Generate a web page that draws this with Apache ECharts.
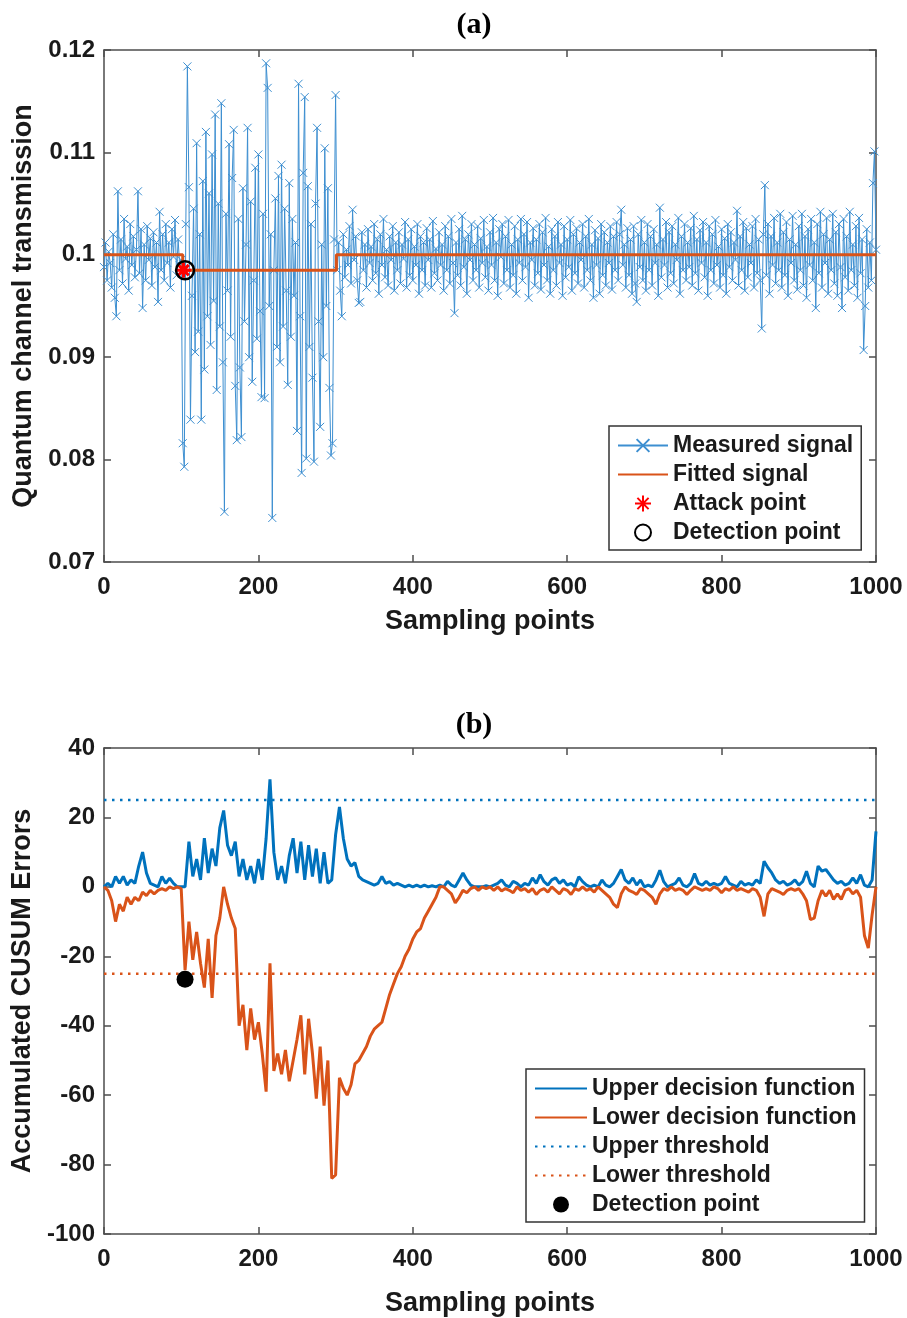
<!DOCTYPE html>
<html>
<head>
<meta charset="utf-8">
<title>CUSUM attack detection</title>
<script src="https://cdn.jsdelivr.net/npm/echarts@6.0.0/dist/echarts.min.js"></script>
<style>
  html, body { margin: 0; padding: 0; background: #fff; }
  #chart { width: 907px; height: 1318px; }
</style>
</head>
<body>
<div id="chart"></div>
<script>
// sampling steps used when reading the curves off the figure
var measStep = 2;
var cusumStep = 5;

// (a) measured quantum channel transmission, one value every 2 samples (0..1000)
var measured = [
  // 0 - 98
  0.0988, 0.1012, 0.0975, 0.1003, 0.0992, 0.0968, 0.1020, 0.0958, 0.0940, 0.1062,
  0.0985, 0.1015, 0.0972, 0.1035, 0.0996, 0.1008, 0.0965, 0.1030, 0.0990, 0.1018,
  0.0978, 0.1005, 0.1062, 0.0982, 0.1025, 0.0948, 0.1010, 0.0975, 0.1028, 0.0995,
  0.1016, 0.0970, 0.1022, 0.0988, 0.1012, 0.0954, 0.1042, 0.0985, 0.1020, 0.0975,
  0.1030, 0.0992, 0.1012, 0.0968, 0.1025, 0.0998, 0.1034, 0.0980, 0.1015, 0.0990,
  // 100 - 298 (attack)
  0.0995, 0.0816, 0.0793, 0.1030, 0.1184, 0.1066, 0.0839, 0.0960, 0.1045, 0.0905,
  0.1109, 0.0925, 0.1020, 0.0839, 0.1072, 0.0888, 0.1120, 0.0940, 0.1060, 0.0912,
  0.1098, 0.0955, 0.1137, 0.0868, 0.1050, 0.0930, 0.1148, 0.0895, 0.0749, 0.1040,
  0.0965, 0.1108, 0.0920, 0.1075, 0.1122, 0.0872, 0.0819, 0.1035, 0.0890, 0.0822,
  0.1065, 0.0935, 0.1010, 0.1124, 0.0900, 0.1052, 0.0876, 0.0975, 0.1085, 0.0918,
  0.1098, 0.0945, 0.0861, 0.1040, 0.0860, 0.1187, 0.1163, 0.0950, 0.1020, 0.0743,
  0.0985, 0.1055, 0.0910, 0.1077, 0.0895, 0.1088, 0.0930, 0.1045, 0.0965, 0.0873,
  0.1070, 0.0920, 0.1035, 0.0960, 0.1012, 0.0828, 0.1167, 0.0940, 0.0787, 0.1080,
  0.1154, 0.0801, 0.1067, 0.0910, 0.1030, 0.0880, 0.0798, 0.1050, 0.1124, 0.0935,
  0.0832, 0.1010, 0.0900, 0.1104, 0.0950, 0.1065, 0.0870, 0.0804, 0.0816, 0.1015,
  // 300 - 998
  0.1156, 0.0985, 0.1012, 0.0965, 0.0940, 0.1020, 0.0978, 0.1005, 0.0990, 0.1028,
  0.0972, 0.1044, 0.0995, 0.1018, 0.0975, 0.0953, 0.0954, 0.1022, 0.0985, 0.1010,
  0.0968, 0.1025, 0.0992, 0.1008, 0.0975, 0.1030, 0.0982, 0.1015, 0.0962, 0.1020,
  0.0990, 0.1035, 0.0978, 0.1005, 0.0970, 0.1018, 0.0995, 0.1028, 0.0965, 0.1012,
  0.0985, 0.1022, 0.0972, 0.1010, 0.0996, 0.1032, 0.0968, 0.1015, 0.0980, 0.1025,
  0.0975, 0.1008, 0.0990, 0.1030, 0.0962, 0.1018, 0.0985, 0.1012, 0.0970, 0.1026,
  0.0995, 0.1015, 0.0968, 0.1033, 0.0982, 0.1006, 0.0975, 0.1022, 0.0990, 0.1010,
  0.0965, 0.1028, 0.0985, 0.1018, 0.0972, 0.1035, 0.0992, 0.0943, 0.1012, 0.0980,
  0.1025, 0.0970, 0.1038, 0.0988, 0.1015, 0.0962, 0.1020, 0.0995, 0.1030, 0.0975,
  0.1010, 0.0985, 0.1028, 0.0968, 0.1016, 0.0992, 0.1034, 0.0978, 0.1008, 0.0965,
  0.1022, 0.0990, 0.1036, 0.0975, 0.1012, 0.0960, 0.1025, 0.0998, 0.1030, 0.0972,
  0.1018, 0.0985, 0.1034, 0.0968, 0.1010, 0.0980, 0.1028, 0.0962, 0.1015, 0.0992,
  0.1035, 0.0975, 0.1020, 0.0988, 0.1032, 0.0958, 0.1012, 0.0995, 0.1026, 0.0970,
  0.1015, 0.0982, 0.1030, 0.0966, 0.1022, 0.0990, 0.1036, 0.0975, 0.1008, 0.0962,
  0.1025, 0.0985, 0.1018, 0.0970, 0.1032, 0.0992, 0.1010, 0.0960, 0.1028, 0.0978,
  0.1015, 0.0988, 0.1034, 0.0965, 0.1020, 0.0982, 0.1026, 0.0972, 0.1012, 0.0995,
  0.1030, 0.0968, 0.1018, 0.0985, 0.1035, 0.0975, 0.1010, 0.0958, 0.1024, 0.0990,
  0.1016, 0.0962, 0.1030, 0.0980, 0.1022, 0.0970, 0.1012, 0.0992, 0.1028, 0.0966,
  0.1018, 0.0985, 0.1032, 0.0975, 0.1020, 0.1044, 0.0990, 0.1010, 0.0968, 0.1026,
  0.0980, 0.1015, 0.0962, 0.1028, 0.0972, 0.0954, 0.1020, 0.0988, 0.1034, 0.0975,
  0.1012, 0.0965, 0.1030, 0.0985, 0.1018, 0.0970, 0.1025, 0.0992, 0.1010, 0.0960,
  0.1046, 0.0978, 0.1015, 0.0990, 0.1032, 0.0968, 0.1022, 0.0982, 0.1028, 0.0972,
  0.1010, 0.0995, 0.1036, 0.0962, 0.1018, 0.0985, 0.1030, 0.0975, 0.1012, 0.0988,
  0.1026, 0.0970, 0.1038, 0.0982, 0.1015, 0.0965, 0.1024, 0.0992, 0.1032, 0.0978,
  0.1012, 0.0960, 0.1028, 0.0985, 0.1020, 0.0972, 0.1034, 0.0990, 0.1008, 0.0968,
  0.1025, 0.0980, 0.1016, 0.0962, 0.1030, 0.0988, 0.1022, 0.0975, 0.1012, 0.0995,
  0.1043, 0.0970, 0.1018, 0.0985, 0.1032, 0.0965, 0.1026, 0.0978, 0.1010, 0.0992,
  0.1028, 0.0968, 0.1035, 0.0982, 0.1015, 0.0975, 0.0928, 0.1020, 0.1068, 0.0980,
  0.1030, 0.0962, 0.1018, 0.0990, 0.1036, 0.0972, 0.1012, 0.0985, 0.1040, 0.0968,
  0.1022, 0.0980, 0.1032, 0.0960, 0.1015, 0.0992, 0.1038, 0.0975, 0.1010, 0.0966,
  0.1028, 0.0985, 0.1040, 0.0970, 0.1018, 0.0958, 0.1025, 0.0990, 0.1035, 0.0975,
  0.1012, 0.0948, 0.1030, 0.0982, 0.1042, 0.0968, 0.1020, 0.0992, 0.1036, 0.0962,
  0.1015, 0.0985, 0.1040, 0.0972, 0.1022, 0.0960, 0.1030, 0.0988, 0.0948, 0.1035,
  0.0978, 0.1018, 0.0965, 0.1042, 0.0985, 0.1010, 0.0970, 0.1028, 0.0958, 0.1036,
  0.0982, 0.1015, 0.0907, 0.0950, 0.1025, 0.0968, 0.1012, 0.0975, 0.1070, 0.1101,
  // 1000
  0.1005
];

// (a) fitted step signal
var fitIdx = [0, 102, 102, 301, 301, 1000];
var fitVal = [0.1, 0.1, 0.0985, 0.0985, 0.1, 0.1];
var attackPoint = [103, 0.0985];
var detectPointA = [105, 0.0985];

// (b) accumulated CUSUM errors, one value every 5 samples (0..1000)
var upperCusum = [
  0, 1, 0, 3, 1, 3, 0.5, 2, 1, 6,
  10, 4, 1, 0.5, 0, 3, 1, 2.5, 1, 0,
  0, 0, 13, 3, 8, 2, 14, 4, 11, 6,
  17, 22, 12, 9, 13, 3, 8, 2, 6, 1,
  8, 2, 14, 31, 10, 2, 6, 1, 9, 14,
  4, 13, 2, 12, 3, 11, 1, 10, 1, 2,
  15, 23, 14, 8, 6, 7, 3, 2, 1.5, 1,
  0.5, 1, 3, 1, 1.5, 0.5, 1, 0.5, 0, 0.5,
  0, 0.5, 0, 0.5, 0, 0.3, 0, 0.5, 0, 1.6,
  0.5, 0, 2, 4, 2, 0.5, 0, 0, 0, 0.3,
  0, 0.5, 1, 2, 0.5, 0, 1.6, 1, 0, 1,
  0.5, 2.6, 1, 3.5, 1.5, 0.5, 2, 2.6, 1, 2,
  0.5, 1, 0, 2.9, 1.5, 0.5, 0, 0.5, 0, 2,
  0.5, 0, 1, 3, 5, 2, 1, 2.6, 0.5, 2,
  0, 0.5, 0, 2, 4.8, 1.5, 0, 0.5, 1, 2.6,
  0.5, 0, 1, 3.8, 1, 0.5, 1.6, 0.5, 1, 0.5,
  1, 3, 1, 0.5, 0, 1.6, 0.5, 1, 0.5, 2,
  1, 7.4, 5.5, 4, 2, 1, 1.6, 0.5, 1, 2,
  0.5, 1.5, 4.5, 1, 0, 6, 4.5, 5, 3.5, 2,
  1, 1.6, 0.5, 1, 2.6, 1, 3.5, 0.5, 0, 2,
  16
];
var lowerCusum = [
  0, -1, -4, -10, -5, -7, -3, -5, -3, -4,
  -1.5, -2.5, -1, -2, -1, -0.5, -1, 0, -0.5, 0,
  -0.5, -24, -10, -21, -13, -22, -29, -15, -32, -14,
  -9, 0, -5, -9, -12, -40, -34, -47, -35, -44,
  -39, -48, -59, -22, -53, -48, -54, -47, -56, -50,
  -44, -37, -54, -38, -48, -61, -46, -63, -50, -84,
  -83, -55, -58, -60, -57, -51, -50, -48, -46, -43,
  -41, -40, -39, -35, -31, -28, -25, -23, -20, -18,
  -15, -13, -12, -9, -7, -5, -3, 0, 0, -1,
  -2, -4.6, -3, -1, -1.7, -0.5, 0, -1, 0, -0.5,
  0, -1, 0, -1.2, -0.5, -1, -1.7, 0, -1, -0.5,
  -1.5, -0.5, -2.2, -1, -0.5, -1.5, 0, -1, -2, -0.5,
  -1, -2.2, -0.5, -1, 0, -1, -0.5, -1.5, 0, -1,
  -2, -3, -5, -6, -2, 0, -1, -1.5, -2.2, -0.5,
  -1, -2, -3, -5, -2, -0.5, -1, 0, -1, -0.5,
  -1, -2.2, -1, 0, -0.5, -1, -0.5, -1, 0, -0.5,
  -1.7, -0.5, -1, 0, -1, -0.5, -1, -1.5, -0.5, -1,
  -3, -8.5, -2, -0.5, -1, -1.5, -2.2, -1, -0.5, -1,
  -0.5, -2, -4, -9.4, -9, -4, -1, -2.7, -1, -3.6,
  -2, -3.6, -1, -0.5, -2, -1, -3, -14, -17.6, -8,
  0
];
var thresholds = [25, -25];
var thresholdSpan = [0, 1000];
var detectPointB = [105, -26.6];

var FONT = '"Liberation Sans", Arial, Helvetica, sans-serif';
var TXT = '#1a1a1a';
var AXIS = '#4d4d4d';
var BLUE = '#0072BD';
var LIGHT_BLUE = '#3d8fd1';
var ORANGE = '#D95319';

var crossSymbol = 'path://M0 0 L10 10 M10 0 L0 10';
var starSymbol = 'path://M10 0 L10 20 M0 10 L20 10 M3 3 L17 17 M17 3 L3 17';

// turn a value list into [sample, value] pairs
function toPairs(values, step) {
  var out = [];
  for (var i = 0; i < values.length; i++) {
    out.push([i * step, values[i]]);
  }
  return out;
}

function zipPairs(xs, ys) {
  var out = [];
  for (var i = 0; i < xs.length; i++) {
    out.push([xs[i], ys[i]]);
  }
  return out;
}

var boxLine = { show: true, onZero: false, lineStyle: { color: AXIS, width: 1.5 } };
var boxTick = { show: true, inside: true, length: 7, lineStyle: { color: AXIS, width: 1.5 } };
var tickFont = { fontFamily: FONT, fontWeight: 'bold', fontSize: 24, color: TXT };
var nameFont = { fontFamily: FONT, fontWeight: 'bold', fontSize: 27, color: TXT };

// bottom + top x axes for one panel (top one only closes the box)
function xAxes(gridIndex, nameGap) {
  return [{
    type: 'value', gridIndex: gridIndex, position: 'bottom',
    min: 0, max: 1000, interval: 200,
    name: 'Sampling points', nameLocation: 'middle', nameGap: nameGap,
    nameTextStyle: nameFont,
    axisLine: boxLine, axisTick: boxTick,
    axisLabel: Object.assign({ margin: 13, formatter: function (v) { return String(v); } }, tickFont),
    splitLine: { show: false }
  }, {
    type: 'value', gridIndex: gridIndex, position: 'top',
    min: 0, max: 1000, interval: 200,
    axisLine: boxLine, axisTick: boxTick,
    axisLabel: { show: false }, splitLine: { show: false }
  }];
}

// left + right y axes for one panel
function yAxes(gridIndex, min, max, interval, name, fmt) {
  return [{
    type: 'value', gridIndex: gridIndex, position: 'left',
    min: min, max: max, interval: interval,
    name: name, nameLocation: 'middle', nameGap: 64,
    nameTextStyle: nameFont,
    axisLine: boxLine, axisTick: boxTick,
    axisLabel: Object.assign({ margin: 9, formatter: fmt }, tickFont),
    splitLine: { show: false }
  }, {
    type: 'value', gridIndex: gridIndex, position: 'right',
    min: min, max: max, interval: interval,
    axisLine: boxLine, axisTick: boxTick,
    axisLabel: { show: false }, splitLine: { show: false }
  }];
}

function legendBox(left, top, names, iconWidth) {
  return {
    orient: 'vertical', left: left, top: top,
    padding: [8, 8, 6, 8], itemGap: 6, itemWidth: iconWidth, itemHeight: 16,
    borderColor: '#333', borderWidth: 1.5, backgroundColor: '#fff',
    selectedMode: false,
    textStyle: { fontFamily: FONT, fontWeight: 'bold', fontSize: 23, lineHeight: 22, color: TXT },
    data: names
  };
}

// hide the dot that echarts puts on line legend icons
var noDot = { opacity: 0 };

var chart = echarts.init(document.getElementById('chart'), null, { renderer: 'canvas' });

chart.setOption({
  animation: false,
  backgroundColor: '#fff',
  grid: [
    { left: 104, top: 50, width: 772, height: 512, outerBoundsMode: 'none' },
    { left: 104, top: 748, width: 772, height: 486, outerBoundsMode: 'none' }
  ],
  xAxis: xAxes(0, 46).concat(xAxes(1, 56)),
  yAxis: yAxes(0, 0.07, 0.12, 0.01, 'Quantum channel transmission', function (v) {
    return String(+v.toFixed(2));
  }).concat(yAxes(1, -100, 40, 20, 'Accumulated CUSUM Errors', function (v) {
    return String(v);
  })),
  legend: [
    legendBox(609, 426, [
      'Measured signal',
      { name: 'Fitted signal', itemStyle: noDot },
      { name: 'Attack point', itemStyle: { opacity: 1 } },
      { name: 'Detection point', icon: 'emptyCircle', itemStyle: { color: '#000', opacity: 1 } }
    ], 50),
    legendBox(526, 1069, [
      { name: 'Upper decision function', itemStyle: noDot },
      { name: 'Lower decision function', itemStyle: noDot },
      { name: 'Upper threshold', itemStyle: noDot },
      { name: 'Lower threshold', itemStyle: noDot },
      { name: 'Detection point', icon: 'circle', itemStyle: { color: '#000', borderWidth: 0, opacity: 1 } }
    ], 52)
  ],
  graphic: [
    { type: 'text', x: 474, y: 25,
      style: { text: '(a)', font: 'bold 30px "Liberation Serif", "Times New Roman", serif',
               fill: '#000', align: 'center', verticalAlign: 'middle' } },
    { type: 'text', x: 474, y: 725,
      style: { text: '(b)', font: 'bold 30px "Liberation Serif", "Times New Roman", serif',
               fill: '#000', align: 'center', verticalAlign: 'middle' } }
  ],
  series: [
    // ---- panel (a)
    {
      name: 'Measured signal', type: 'line', xAxisIndex: 0, yAxisIndex: 0,
      data: toPairs(measured, measStep),
      symbol: crossSymbol, symbolSize: 8, showAllSymbol: true,
      itemStyle: { color: 'rgba(0,0,0,0)', borderColor: LIGHT_BLUE, borderWidth: 1 },
      lineStyle: { color: LIGHT_BLUE, width: 1 },
      z: 2
    },
    {
      name: 'Fitted signal', type: 'line', xAxisIndex: 0, yAxisIndex: 0,
      data: zipPairs(fitIdx, fitVal), symbol: 'none',
      itemStyle: { color: ORANGE },
      lineStyle: { color: ORANGE, width: 3 },
      z: 3
    },
    {
      name: 'Attack point', type: 'scatter', xAxisIndex: 0, yAxisIndex: 0,
      data: [attackPoint], symbol: starSymbol, symbolSize: 15,
      itemStyle: { color: 'rgba(0,0,0,0)', borderColor: '#ff0000', borderWidth: 3, opacity: 1 },
      z: 4
    },
    {
      name: 'Detection point', type: 'scatter', xAxisIndex: 0, yAxisIndex: 0,
      data: [detectPointA], symbol: 'circle', symbolSize: 18,
      itemStyle: { color: 'rgba(0,0,0,0)', borderColor: '#000', borderWidth: 2.5, opacity: 1 },
      z: 5
    },
    // ---- panel (b)
    {
      name: 'Upper decision function', type: 'line', xAxisIndex: 2, yAxisIndex: 2,
      data: toPairs(upperCusum, cusumStep), symbol: 'none',
      itemStyle: { color: BLUE }, lineStyle: { color: BLUE, width: 3 }, z: 3
    },
    {
      name: 'Lower decision function', type: 'line', xAxisIndex: 2, yAxisIndex: 2,
      data: toPairs(lowerCusum, cusumStep), symbol: 'none',
      itemStyle: { color: ORANGE }, lineStyle: { color: ORANGE, width: 3 }, z: 3
    },
    {
      name: 'Upper threshold', type: 'line', xAxisIndex: 2, yAxisIndex: 2,
      data: zipPairs(thresholdSpan, [thresholds[0], thresholds[0]]), symbol: 'none',
      itemStyle: { color: BLUE },
      lineStyle: { color: BLUE, width: 2.5, type: [2.5, 5.5] }, z: 2
    },
    {
      name: 'Lower threshold', type: 'line', xAxisIndex: 2, yAxisIndex: 2,
      data: zipPairs(thresholdSpan, [thresholds[1], thresholds[1]]), symbol: 'none',
      itemStyle: { color: ORANGE },
      lineStyle: { color: ORANGE, width: 2.5, type: [2.5, 5.5] }, z: 2
    },
    {
      name: 'Detection point', type: 'scatter', xAxisIndex: 2, yAxisIndex: 2,
      data: [detectPointB], symbol: 'circle', symbolSize: 17,
      itemStyle: { color: '#000', opacity: 1 }, z: 5
    }
  ]
});
</script>
</body>
</html>
